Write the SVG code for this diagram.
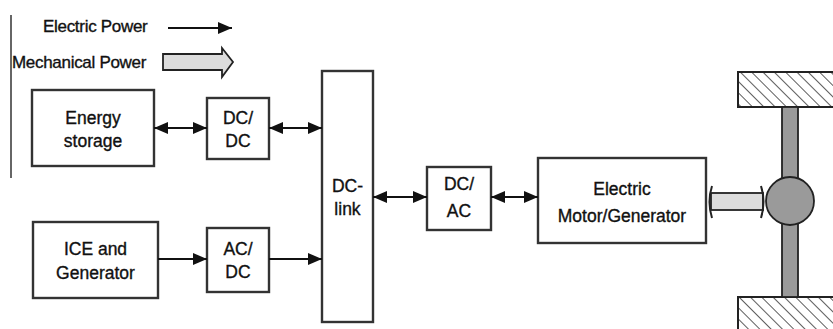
<svg xmlns="http://www.w3.org/2000/svg" width="833" height="329" viewBox="0 0 833 329">
<style>
  .box { fill: #fff; stroke: #333; stroke-width: 2.4; }
  .t { font-family: "Liberation Sans", Arial, sans-serif; font-size: 17.5px; fill: #111; stroke: #111; stroke-width: 0.35; text-anchor: middle; }
  .lg { font-family: "Liberation Sans", Arial, sans-serif; font-size: 17px; fill: #111; stroke: #111; stroke-width: 0.35; letter-spacing: -0.3px; }
  .ln { stroke: #111; stroke-width: 2.2; fill: none; }
  .gray { fill: #9a9a9a; stroke: #222; stroke-width: 1.8; }
  .mech { fill: #dcdcdc; stroke: #222; stroke-width: 1.8; }
  .hatch { fill: url(#hatch); stroke: #222; stroke-width: 2; }
</style>
<defs>
  <marker id="ah" markerUnits="userSpaceOnUse" viewBox="0 0 14 12" refX="14" refY="6" markerWidth="14" markerHeight="12" orient="auto-start-reverse">
    <path d="M0,0 L14,6 L0,12 Z" fill="#111"/>
  </marker>
  <pattern id="hatch" patternUnits="userSpaceOnUse" width="8" height="8" patternTransform="rotate(-45)">
    <rect width="8" height="8" fill="#fff"/>
    <line x1="0" y1="0" x2="0" y2="8" stroke="#333" stroke-width="1.6"/>
  </pattern>
</defs>

<g id="legend">
  <line x1="11" y1="15" x2="11" y2="178" stroke="#666" stroke-width="2"/>
  <text class="lg" x="43" y="32">Electric Power</text>
  <line class="ln" x1="168" y1="28" x2="232" y2="28" marker-end="url(#ah)"/>
  <text class="lg" x="12" y="68">Mechanical Power</text>
  <polygon class="mech" points="163,54 222,54 222,48 233,62 222,77 222,70 163,70"/>
</g>

<g id="energy-storage">
  <rect class="box" x="32" y="90" width="122" height="76"/>
  <text class="t" x="93" y="124">Energy</text>
  <text class="t" x="93" y="147">storage</text>
</g>
<g id="dcdc">
  <rect class="box" x="207" y="98" width="62" height="61"/>
  <text class="t" x="238" y="124">DC/</text>
  <text class="t" x="238" y="147">DC</text>
</g>
<g id="ice">
  <rect class="box" x="33" y="222" width="125" height="76"/>
  <text class="t" x="95.5" y="255">ICE and</text>
  <text class="t" x="95.5" y="279">Generator</text>
</g>
<g id="acdc">
  <rect class="box" x="207" y="228" width="62" height="64"/>
  <text class="t" x="238" y="255">AC/</text>
  <text class="t" x="238" y="278">DC</text>
</g>
<g id="dclink">
  <rect class="box" x="322" y="71" width="51" height="251"/>
  <text class="t" x="347.5" y="192">DC-</text>
  <text class="t" x="347.5" y="215">link</text>
</g>
<g id="dcac">
  <rect class="box" x="427" y="167" width="64" height="63"/>
  <text class="t" x="459" y="190">DC/</text>
  <text class="t" x="459" y="217">AC</text>
</g>
<g id="motor">
  <rect class="box" x="538" y="158" width="168" height="85"/>
  <text class="t" x="622" y="195">Electric</text>
  <text class="t" x="622" y="222">Motor/Generator</text>
</g>
<g id="wheel">
  <rect class="hatch" x="738" y="72" width="100" height="35"/>
  <rect class="hatch" x="738" y="297" width="100" height="40"/>
  <rect class="gray" x="782" y="107" width="16" height="190"/>
  <circle class="gray" cx="790" cy="201" r="24"/>
</g>

<g id="connectors">
  <line class="ln" x1="154" y1="128" x2="207" y2="128" marker-start="url(#ah)" marker-end="url(#ah)"/>
  <line class="ln" x1="269" y1="128" x2="322" y2="128" marker-start="url(#ah)" marker-end="url(#ah)"/>
  <line class="ln" x1="158" y1="259" x2="207" y2="259" marker-end="url(#ah)"/>
  <line class="ln" x1="269" y1="259" x2="322" y2="259" marker-end="url(#ah)"/>
  <line class="ln" x1="373" y1="197" x2="427" y2="197" marker-start="url(#ah)" marker-end="url(#ah)"/>
  <line class="ln" x1="491" y1="197" x2="538" y2="197" marker-start="url(#ah)" marker-end="url(#ah)"/>
  <g id="shaft">
    <rect class="mech" x="711" y="193" width="52" height="17"/>
    <path d="M712,186 Q707,201.5 712,218" fill="none" stroke="#222" stroke-width="2"/>
    <path d="M761,186 Q766,201.5 761,218" fill="none" stroke="#222" stroke-width="2"/>
  </g>
</g>
</svg>
